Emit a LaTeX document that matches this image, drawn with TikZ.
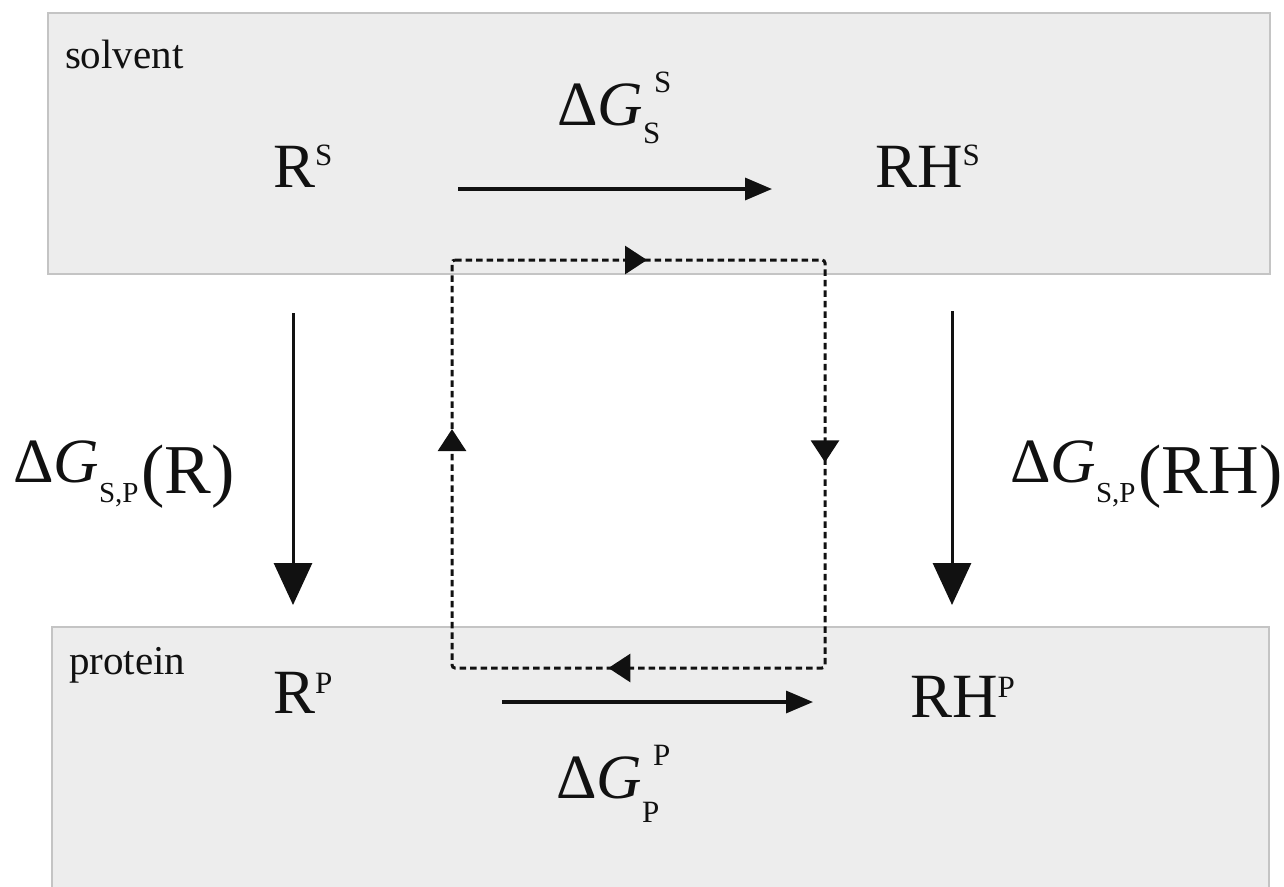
\documentclass[tikz,border=0pt]{standalone}
\usepackage{fontspec}
\setmainfont{Liberation Serif}
\usetikzlibrary{arrows.meta,decorations.markings}
\definecolor{boxfill}{HTML}{EDEDED}
\definecolor{boxline}{HTML}{C4C4C4}
\definecolor{ink}{HTML}{111111}
\newcommand{\bigf}{\fontsize{63}{63}\selectfont}
\newcommand{\smf}{\fontsize{31}{31}\selectfont}
\newcommand{\spf}{\fontsize{29}{29}\selectfont}
\newcommand{\parf}{\fontsize{70}{70}\selectfont}
\newcommand{\spt}[1]{\raisebox{22pt}{\smf #1}}
\begin{document}
\begin{tikzpicture}[x=1pt,y=-1pt,
  lbl/.style={inner sep=0pt, outer sep=0pt, anchor=base west, font=\bigf, text=ink},
  tag/.style={inner sep=0pt, outer sep=0pt, anchor=base west, font=\fontsize{41}{41}\selectfont, text=ink},
  region/.style={fill=boxfill},
  regionedge/.style={draw=boxline, line width=1.5pt},
  harrow/.style={draw=ink, line width=3.3pt, -{Triangle[length=27pt,width=22pt]}},
  varrow/.style={draw=ink, line width=3pt, -{Triangle[length=42pt,width=38pt]}},
  cyclepath/.style={draw=ink, line width=3pt, dash pattern=on 6.5pt off 4pt, rounded corners=3pt,
    postaction={decorate},
    decoration={markings,
      mark=at position 192pt with {\arrow[ink]{Triangle[length=22pt,width=28pt]}},
      mark=at position 571pt with {\arrow[ink]{Triangle[length=22pt,width=28pt]}},
      mark=at position 992pt with {\arrow[ink]{Triangle[length=22pt,width=28pt]}},
      mark=at position 1386pt with {\arrow[ink]{Triangle[length=22pt,width=28pt]}}}}
]
\useasboundingbox (0,0) rectangle (1284,886);

% regions
\fill[region] (48,13) rectangle (1270,274);
\draw[regionedge] (48,13) rectangle (1270,274);
\fill[region] (52,627) rectangle (1269,900);
\draw[regionedge] (52,900) -- (52,627) -- (1269,627) -- (1269,900);

\node[tag] (solvent) at (65,68) {solvent};
\node[tag] (protein) at (69,674) {protein};

% species
\node[lbl] (RS) at (273,187) {R\spt{S}};
\node[lbl] (RHS) at (875,187) {RH\spt{S}};
\node[lbl] (RP) at (273,713) {R\raisebox{20pt}{\smf P}};
\node[lbl] (RHP) at (910,717) {RH\raisebox{20pt}{\smf P}};

% free energy labels
\node[lbl] (dGS) at (557,125) {Δ\textit{G}\rlap{\hspace{11pt}\raisebox{33pt}{\smf S}}\raisebox{-18pt}{\smf S}};
\node[lbl] (dGP) at (556,798) {Δ\textit{G}\rlap{\hspace{11pt}\raisebox{33pt}{\smf P}}\raisebox{-24pt}{\smf P}};
\node[lbl] (dGR) at (13,482) {Δ\textit{G}\raisebox{-20pt}{\spf S,P}\hspace{3pt}\raisebox{-11pt}{\parf (R)}};
\node[lbl] (dGRH) at (1010,482) {Δ\textit{G}\raisebox{-20pt}{\spf S,P}\hspace{3pt}\raisebox{-11pt}{\parf (RH)}};

% connector end points
\coordinate (ts) at (458,189);
\coordinate (te) at (772,189);
\coordinate (bs) at (502,702);
\coordinate (be) at (813,702);
\coordinate (ls) at (293,313);
\coordinate (le) at (293,605);
\coordinate (rs) at (952,311);
\coordinate (re) at (952,605);
\coordinate (c1) at (452,260);
\coordinate (c2) at (825,260);
\coordinate (c3) at (825,668);
\coordinate (c4) at (452,668);

\draw[harrow] (ts) -- (te);
\draw[harrow] (bs) -- (be);
\draw[varrow] (ls) -- (le);
\draw[varrow] (rs) -- (re);

\draw[cyclepath] (c1) -- (c2) -- (c3) -- (c4) -- cycle;
\end{tikzpicture}
\end{document}
